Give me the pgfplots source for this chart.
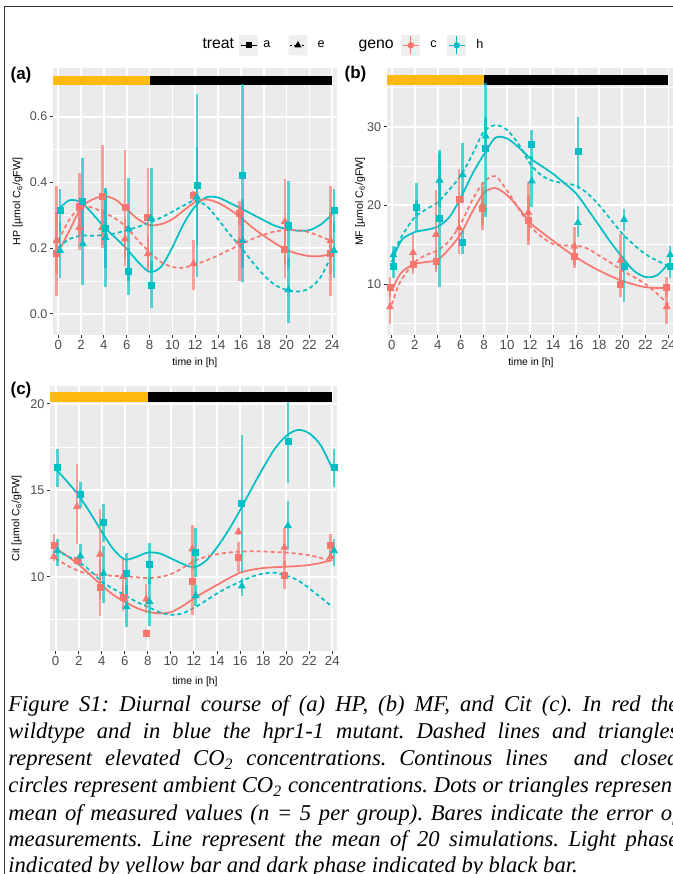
\documentclass[border=0pt]{standalone}
\usepackage{fontspec}
\setmainfont{Liberation Sans}
\newfontfamily\capfont{Liberation Serif}
\usepackage{pgfplots}
\pgfplotsset{compat=1.18}
\definecolor{ggbg}{HTML}{EBEBEB}
\definecolor{ggred}{HTML}{F8766D}
\definecolor{ggcyan}{HTML}{00BFC4}
\definecolor{ggyellow}{HTML}{FFB90F}
\definecolor{ggtext}{HTML}{4D4D4D}
\definecolor{ggtick}{HTML}{333333}
\definecolor{ggkey}{HTML}{EFEFEF}
\pgfplotsset{
 ggpanel/.style={
  scale only axis, anchor=south west,
  axis background/.style={fill=ggbg},
  axis line style={draw=none},
  tick pos=left, tick align=outside,
  major tick length=1.6pt, minor tick length=0pt,
  tick style={ggtick, line width=0.5pt},
  grid=both,
  major grid style={white, line width=0.9pt},
  minor grid style={white, line width=0.45pt},
  xtick={0,2,...,24}, minor xtick={},
  xticklabel style={font=\fontsize{6.6}{7}\selectfont, text=ggtext, inner sep=1pt},
  yticklabel style={font=\fontsize{6.3}{7}\selectfont, text=ggtext, inner sep=1pt},
  /pgf/number format/assume math mode=true,
  xlabel={time in [h]},
  clip=true,
 },
 pr/.style={only marks, error bars/.cd, y dir=both, y explicit, error mark=none,
   error bar style={line width=1.3pt, opacity=0.65}},
 ra/.style={ggred, mark=square*, mark size=1.5pt, pr},
 re/.style={ggred, mark=triangle*, mark size=1.9pt, pr},
 ca/.style={ggcyan, mark=square*, mark size=1.5pt, pr},
 ce/.style={ggcyan, mark=triangle*, mark size=1.9pt, pr},
 lr/.style={ggred, line width=0.85pt, smooth, no marks},
 lc/.style={ggcyan, line width=0.85pt, smooth, no marks},
 dsh/.style={dash pattern=on 2pt off 1.5pt},
 barY/.style={fill=ggyellow, draw=none, forget plot},
 barK/.style={fill=black, draw=none, forget plot},
}
\begin{document}
\begin{tikzpicture}
%%%%%%%%%%%%%%%% panel (a)
\begin{axis}[ggpanel, at={(26.5pt,269.5pt)}, width=141.85pt, height=133.5pt,
  xmin=-0.46, xmax=24.39, ymin=-0.064, ymax=0.748,
  ytick={0,0.2,0.4,0.6}, minor ytick={0.1,0.3,0.5,0.7},
  yticklabel style={/pgf/number format/.cd, fixed, fixed zerofill, precision=1},
  ylabel={HP [µmol C\textsubscript{6}/gFW]},
  every axis x label/.style={at={(axis description cs:0.5,-0.105)}, anchor=center, font=\fontsize{5.2}{6}\selectfont},
  every axis y label/.style={at={(axis description cs:-0.125,0.5)}, rotate=90, anchor=center, font=\fontsize{5.3}{6}\selectfont},
  legend columns=6,
  legend style={at={(axis description cs:0.527,1.085)}, anchor=west, draw=none, fill=none,
    inner sep=0pt, outer sep=0pt, column sep=0pt,
    nodes={inner sep=0pt, font=\fontsize{6.3}{7}\selectfont},
    /tikz/column 1/.style={column sep=0pt},
    /tikz/column 2/.style={column sep=2.5pt},
    /tikz/column 3/.style={column sep=2.5pt},
    /tikz/column 4/.style={column sep=9pt},
    /tikz/column 5/.style={column sep=5pt},
    /tikz/column 6/.style={column sep=17pt},
    /tikz/column 7/.style={column sep=0pt},
    /tikz/column 8/.style={column sep=3.8pt},
    /tikz/column 9/.style={column sep=5pt},
    /tikz/column 10/.style={column sep=5.2pt},
    /tikz/column 11/.style={column sep=5pt}},
]
\addlegendimage{empty legend}
\addlegendentry{\fontsize{7.9}{8}\selectfont treat}
\addlegendimage{black, line width=0.6pt, mark=square*, mark size=1.2pt,
  legend image code/.code={\fill[ggkey] (0pt,-5pt) rectangle (9pt,5pt);
  \draw[mark repeat=2, mark phase=2] plot coordinates {(0.5pt,0pt) (4.5pt,0pt) (8.5pt,0pt)};}}
\addlegendentry{a}
\addlegendimage{black, line width=0.6pt, dash pattern=on 1pt off 1pt, mark=triangle*, mark size=1.5pt, mark options={solid},
  legend image code/.code={\fill[ggkey] (0pt,-5pt) rectangle (9pt,5pt);
  \draw[mark repeat=2, mark phase=2] plot coordinates {(0.5pt,0pt) (4.5pt,0pt) (8.5pt,0pt)};}}
\addlegendentry{e}
\addlegendimage{empty legend}
\addlegendentry{\fontsize{7.9}{8}\selectfont geno}
\addlegendimage{ggred, line width=0.6pt, mark=*, mark size=1.3pt,
  legend image code/.code={\fill[ggkey] (0pt,-5pt) rectangle (9pt,5pt);
  \draw (4.5pt,-4.5pt) -- (4.5pt,4.5pt);
  \draw[mark repeat=2, mark phase=2] plot coordinates {(0.5pt,0pt) (4.5pt,0pt) (8.5pt,0pt)};}}
\addlegendentry{c}
\addlegendimage{ggcyan, line width=0.6pt, mark=*, mark size=1.3pt,
  legend image code/.code={\fill[ggkey] (0pt,-5pt) rectangle (9pt,5pt);
  \draw (4.5pt,-4.5pt) -- (4.5pt,4.5pt);
  \draw[mark repeat=2, mark phase=2] plot coordinates {(0.5pt,0pt) (4.5pt,0pt) (8.5pt,0pt)};}}
\addlegendentry{h}
\addplot[barY] coordinates {(-0.46,0.696) (8,0.696) (8,0.7234) (-0.46,0.7234)} -- cycle;
\addplot[barK] coordinates {(8,0.696) (24,0.696) (24,0.7234) (8,0.7234)} -- cycle;
% simulation means
\addplot[lc] coordinates {(0,0.318) (1,0.346) (2,0.339) (3,0.305) (4,0.265) (5,0.232) (6,0.198) (7,0.158) (8,0.128) (9,0.143) (10,0.203) (11,0.275) (12,0.328) (13,0.355) (14,0.354) (15,0.338) (16,0.321) (17,0.303) (18,0.285) (19,0.268) (20,0.258) (21,0.253) (22,0.255) (23,0.272) (24,0.303)};
\addplot[lr] coordinates {(0,0.188) (1,0.255) (2,0.323) (3,0.348) (4,0.358) (5,0.348) (6,0.318) (7,0.288) (8,0.27) (9,0.273) (10,0.288) (11,0.315) (12,0.340) (13,0.348) (14,0.338) (15,0.318) (16,0.293) (17,0.263) (18,0.238) (19,0.215) (20,0.195) (21,0.183) (22,0.176) (23,0.176) (24,0.183)};
\addplot[lc, dsh] coordinates {(0,0.203) (1,0.228) (2,0.238) (3,0.238) (4,0.24) (5,0.245) (6,0.255) (7,0.265) (8,0.278) (9,0.293) (10,0.311) (11,0.33) (12,0.345) (13,0.328) (14,0.288) (15,0.243) (16,0.203) (17,0.158) (18,0.118) (19,0.088) (20,0.073) (21,0.068) (22,0.078) (23,0.113) (24,0.183)};
\addplot[lr, dsh] coordinates {(0,0.223) (1,0.288) (2,0.326) (3,0.323) (4,0.308) (5,0.29) (6,0.263) (7,0.223) (8,0.188) (9,0.158) (10,0.143) (11,0.141) (12,0.151) (13,0.163) (14,0.178) (15,0.195) (16,0.211) (17,0.228) (18,0.241) (19,0.251) (20,0.255) (21,0.255) (22,0.248) (23,0.235) (24,0.221)};
% measurements
\addplot[ra] coordinates {(-0.15,0.183) += (0,0.127) -= (0,0.128) (1.85,0.328) += (0,0.102) -= (0,0.088) (3.85,0.358) += (0,0.157) -= (0,0.158) (5.85,0.323) += (0,0.177) -= (0,0.178) (7.85,0.293) += (0,0.152) -= (0,0.153) (11.85,0.36) += (0,0.015) -= (0,0.015) (15.85,0.306) += (0,0.036) -= (0,0.036) (19.85,0.196) += (0,0.084) -= (0,0.088) (23.85,0.183) += (0,0.127) -= (0,0.128)};
\addplot[re] coordinates {(-0.15,0.223) += (0,0.167) -= (0,0.103) (1.85,0.263) += (0,0.067) -= (0,0.068) (3.85,0.263) += (0,0.057) -= (0,0.053) (5.85,0.228) += (0,0.062) -= (0,0.058) (7.85,0.183) += (0,0.057) -= (0,0.053) (11.85,0.153) += (0,0.072) -= (0,0.08) (15.85,0.22) += (0,0.11) -= (0,0.12) (19.85,0.281) += (0,0.13) -= (0,0.131) (23.85,0.223) += (0,0.167) -= (0,0.103)};
\addplot[ca] coordinates {(0.15,0.316) += (0,0.064) -= (0,0.066) (2.15,0.343) += (0,0.132) -= (0,0.133) (4.15,0.26) += (0,0.123) -= (0,0.12) (6.15,0.128) += (0,0.072) -= (0,0.07) (8.15,0.088) += (0,0.072) -= (0,0.07) (12.15,0.39) += (0,0.278) -= (0,0.277) (16.15,0.421) += (0,0.279) -= (0,0.281) (20.15,0.268) += (0,0.135) -= (0,0.128) (24.15,0.316) += (0,0.064) -= (0,0.066)};
\addplot[ce] coordinates {(0.15,0.193) += (0,0.087) -= (0,0.085) (2.15,0.213) += (0,0.127) -= (0,0.125) (4.15,0.232) += (0,0.148) -= (0,0.149) (6.15,0.258) += (0,0.155) -= (0,0.158) (8.15,0.29) += (0,0.155) -= (0,0.16) (12.15,0.355) += (0,0.153) -= (0,0.145) (16.15,0.223) += (0,0.127) -= (0,0.125) (20.15,0.073) += (0,0.097) -= (0,0.1) (24.15,0.193) += (0,0.087) -= (0,0.085)};
\end{axis}
%%%%%%%%%%%%%%%% panel (b)
\begin{axis}[ggpanel, at={(193.35pt,269.5pt)}, width=143.05pt, height=133.35pt,
  xmin=-0.434, xmax=24.38, ymin=3.52, ymax=37.43,
  ytick={10,20,30}, minor ytick={5,15,25,35},
  ylabel={MF [µmol C\textsubscript{6}/gFW]},
  every axis x label/.style={at={(axis description cs:0.504,-0.105)}, anchor=center, font=\fontsize{5.2}{6}\selectfont},
  every axis y label/.style={at={(axis description cs:-0.093,0.5)}, rotate=90, anchor=center, font=\fontsize{5.3}{6}\selectfont},
]
\addplot[barY] coordinates {(-0.434,35.30) (8,35.30) (8,36.57) (-0.434,36.57)} -- cycle;
\addplot[barK] coordinates {(8,35.30) (24,35.30) (24,36.57) (8,36.57)} -- cycle;
\addplot[lc] coordinates {(0,12.8) (0.5,14.6) (1,15.8) (2,16.6) (3,16.9) (4,17.3) (5,18.5) (6,21.0) (7,24.0) (8,26.5) (9,28.6) (10,28.5) (11,27.4) (12,26.0) (13,25.0) (14,24.0) (15,22.8) (16,21.5) (17,19.5) (18,17.4) (19,15.3) (20,13.4) (21,11.7) (22,10.9) (23,11.1) (24,12.6)};
\addplot[lc, dsh] coordinates {(0,13.4) (0.5,15.0) (1,16.4) (2,18.5) (3,19.5) (4,20.4) (5,22.0) (6,23.8) (7,26.5) (8,29.4) (9,30.2) (10,29.6) (11,27.8) (12,25.3) (13,23.8) (14,23.1) (15,22.8) (16,22.5) (17,21.5) (18,20.0) (19,18.2) (20,16.4) (21,15.0) (22,13.8) (23,13.0) (24,12.3)};
\addplot[lr] coordinates {(0,9.1) (0.5,10.7) (1,11.7) (2,12.55) (3,12.8) (4,13.1) (5,14.5) (6,16.4) (7,19.2) (8,21.6) (9,22.2) (10,21.3) (11,19.7) (12,17.8) (13,16.6) (14,15.5) (15,14.4) (16,13.4) (17,12.5) (18,11.7) (19,11.0) (20,10.4) (21,9.95) (22,9.6) (23,9.5) (24,9.5)};
\addplot[lr, dsh] coordinates {(0,7.4) (0.5,9.5) (1,10.9) (2,12.8) (3,13.7) (4,14.3) (5,15.5) (6,17.7) (7,20.7) (8,23.0) (9,23.7) (10,21.9) (11,19.6) (12,17.4) (13,16.0) (14,15.1) (15,14.9) (16,14.9) (17,14.5) (18,13.6) (19,12.7) (20,11.7) (21,10.9) (22,10.0) (23,8.8) (24,7.4)};
\addplot[ra] coordinates {(-0.15,9.6) += (0,1.25) -= (0,1.2) (1.85,12.5) += (0,1.2) -= (0,1.2) (3.85,12.9) += (0,1.4) -= (0,1.4) (5.85,20.8) += (0,3.8) -= (0,3.7) (7.85,19.6) += (0,2.7) -= (0,2.7) (11.85,18.1) += (0,3.2) -= (0,3.2) (15.85,13.5) += (0,1.4) -= (0,1.4) (19.85,10.0) += (0,1.7) -= (0,1.7) (23.85,9.6) += (0,1.25) -= (0,1.2)};
\addplot[re] coordinates {(-0.15,7.1) += (0,2.2) -= (0,2.2) (1.85,14.0) += (0,2.4) -= (0,2.2) (3.85,16.3) += (0,5.6) -= (0,4.5) (5.85,17.1) += (0,3.3) -= (0,3.3) (7.85,20.0) += (0,2.8) -= (0,2.5) (11.85,19.1) += (0,3.9) -= (0,3.6) (15.85,14.8) += (0,2.4) -= (0,2.4) (19.85,13.0) += (0,3.4) -= (0,3.4) (23.85,7.1) += (0,2.2) -= (0,2.2)};
\addplot[ca] coordinates {(0.15,12.3) += (0,1.5) -= (0,1.5) (2.15,19.8) += (0,3.0) -= (0,3.0) (4.15,18.4) += (0,8.2) -= (0,8.8) (6.15,15.3) += (0,1.5) -= (0,1.5) (8.15,27.2) += (0,8.3) -= (0,8.7) (12.15,27.8) += (0,1.8) -= (0,1.9) (16.15,26.8) += (0,4.4) -= (0,4.7) (20.15,12.2) += (0,4.2) -= (0,4.5) (24.15,12.3) += (0,1.5) -= (0,1.5)};
\addplot[ce] coordinates {(0.15,13.7) += (0,1.1) -= (0,1.1) (2.15,19.6) += (0,1.1) -= (0,1.1) (4.15,23.2) += (0,3.8) -= (0,3.4) (6.15,23.9) += (0,4.0) -= (0,3.6) (8.15,28.8) += (0,2.4) -= (0,2.3) (12.15,23.1) += (0,3.2) -= (0,3.3) (16.15,17.8) += (0,2.1) -= (0,1.8) (20.15,18.2) += (0,1.4) -= (0,1.4) (24.15,13.7) += (0,1.1) -= (0,1.1)};
\end{axis}
%%%%%%%%%%%%%%%% panel (c)
\begin{axis}[ggpanel, at={(25pt,111.5pt)}, width=143.35pt, height=132.5pt,
  xmin=-0.49, xmax=24.38, ymin=5.70, ymax=21.04,
  ytick={10,15,20}, minor ytick={7.5,12.5,17.5},
  ylabel={Cit [µmol C\textsubscript{6}/gFW]},
  every axis x label/.style={at={(axis description cs:0.506,-0.116)}, anchor=center, font=\fontsize{5.2}{6}\selectfont},
  every axis y label/.style={at={(axis description cs:-0.116,0.5)}, rotate=90, anchor=center, font=\fontsize{5.3}{6}\selectfont},
]
\addplot[barY] coordinates {(-0.49,20.12) (8,20.12) (8,20.69) (-0.49,20.69)} -- cycle;
\addplot[barK] coordinates {(8,20.12) (24,20.12) (24,20.69) (8,20.69)} -- cycle;
\addplot[lc] coordinates {(0,16.25) (1,15.5) (2,14.7) (3,13.7) (4,12.6) (5,11.6) (6,11.0) (7,11.15) (8,11.4) (9,11.35) (10,11.06) (11,10.75) (12,10.55) (13,10.9) (14,11.7) (15,12.7) (16,13.85) (17,15.1) (18,16.3) (19,17.4) (20,18.15) (21,18.5) (22,18.3) (23,17.6) (24,16.25)};
\addplot[lr] coordinates {(0,11.65) (1,11.2) (2,10.7) (3,10.1) (4,9.5) (5,8.95) (6,8.55) (7,8.2) (8,7.97) (9,7.88) (10,7.95) (11,8.3) (12,8.75) (13,9.15) (14,9.52) (15,9.9) (16,10.23) (17,10.4) (18,10.5) (19,10.55) (20,10.58) (21,10.62) (22,10.68) (23,10.8) (24,10.97)};
\addplot[lr, dsh] coordinates {(0,11.06) (1,10.65) (2,10.33) (3,10.15) (4,10.1) (5,10.05) (6,10.03) (7,9.97) (8,9.92) (9,9.98) (10,10.15) (11,10.5) (12,10.9) (13,11.15) (14,11.3) (15,11.4) (16,11.45) (17,11.47) (18,11.46) (19,11.43) (20,11.4) (21,11.33) (22,11.25) (23,11.08) (24,10.87)};
\addplot[lc, dsh] coordinates {(0,11.54) (1,11.2) (2,10.87) (3,10.35) (4,9.71) (5,9.3) (6,8.94) (7,8.55) (8,8.26) (9,7.95) (10,7.8) (11,7.88) (12,8.2) (13,8.6) (14,9.03) (15,9.4) (16,9.71) (17,10.0) (18,10.18) (19,10.23) (20,10.06) (21,9.8) (22,9.32) (23,8.8) (24,8.26)};
\addplot[ra] coordinates {(-0.15,11.8) += (0,0.7) -= (0,0.6) (1.85,10.97) += (0,0.18) -= (0,0.17) (3.85,9.36) += (0,1.64) -= (0,1.66) (5.85,8.78) += (0,0.72) -= (0,0.78) (7.85,6.7) += (0,0.3) -= (0,0.2) (11.85,9.75) += (0,1.25) -= (0,1.95) (15.85,11.1) += (0,0.9) -= (0,0.8) (19.85,10.1) += (0,0.8) -= (0,0.8) (23.85,11.8) += (0,0.7) -= (0,0.6)};
\addplot[re] coordinates {(-0.15,11.16) += (0,0.34) -= (0,0.26) (1.85,14.05) += (0,2.45) -= (0,2.15) (3.85,11.3) += (0,2.6) -= (0,2.6) (5.85,10.0) += (0,1.0) -= (0,1.25) (7.85,8.7) += (0,0.9) -= (0,0.8) (11.85,11.6) += (0,1.4) -= (0,1.2) (15.85,12.6) += (0,0.2) -= (0,0.2) (19.85,11.7) += (0,1.1) -= (0,1.1) (23.85,11.16) += (0,0.34) -= (0,0.26)};
\addplot[ca] coordinates {(0.15,16.3) += (0,1.1) -= (0,1.1) (2.15,14.77) += (0,0.73) -= (0,0.77) (4.15,13.15) += (0,1.05) -= (0,1.15) (6.15,10.2) += (0,1.15) -= (0,1.2) (8.15,10.7) += (0,1.23) -= (0,1.1) (12.15,11.4) += (0,1.4) -= (0,1.4) (16.15,14.25) += (0,3.95) -= (0,3.95) (20.15,17.86) += (0,2.24) -= (0,2.46) (24.15,16.3) += (0,1.1) -= (0,1.1)};
\addplot[ce] coordinates {(0.15,11.5) += (0,0.7) -= (0,0.9) (2.15,11.2) += (0,0.7) -= (0,0.6) (4.15,10.2) += (0,1.6) -= (0,1.75) (6.15,8.26) += (0,1.24) -= (0,1.16) (8.15,8.55) += (0,1.35) -= (0,1.39) (12.15,8.9) += (0,0.6) -= (0,0.6) (16.15,9.46) += (0,0.44) -= (0,0.56) (20.15,12.95) += (0,1.45) -= (0,1.35) (24.15,11.5) += (0,0.7) -= (0,0.9)};
\end{axis}
%%%%%%%%%%%%%%%% tags, caption, frame
\node[font=\bfseries\fontsize{8.5}{9}\selectfont, inner sep=0pt] at (10.5pt,399.5pt) {(a)};
\node[font=\bfseries\fontsize{8.5}{9}\selectfont, inner sep=0pt] at (177.75pt,399.75pt) {(b)};
\node[font=\bfseries\fontsize{8.5}{9}\selectfont, inner sep=0pt] at (10.5pt,242pt) {(c)};
\begin{scope}[every node/.style={anchor=base west, inner sep=0pt, font=\capfont\itshape\fontsize{11.3}{13.5}\selectfont\frenchspacing}]
\node at (4pt,81pt) {\makebox[335pt][s]{Figure S1: Diurnal course of (a) HP, (b) MF, and Cit (c). In red the}};
\node at (4pt,67.5pt) {\makebox[335pt][s]{wildtype and in blue the hpr1-1 mutant. Dashed lines and triangles}};
\node at (4pt,54pt) {\makebox[335pt][s]{represent elevated CO\textsubscript{2} concentrations. Continous lines\ \ and closed}};
\node at (4pt,40.5pt) {\makebox[335pt][s]{circles represent ambient CO\textsubscript{2} concentrations. Dots or triangles represent}};
\node at (4pt,27pt) {\makebox[335pt][s]{mean of measured values (n = 5 per group). Bares indicate the error of}};
\node at (4pt,13.5pt) {\makebox[335pt][s]{measurements. Line represent the mean of 20 simulations. Light phase}};
\node at (4pt,0.8pt) {indicated by yellow bar and dark phase indicated by black bar.};
\end{scope}
\draw[line width=0.5pt, black!80] (2pt,-10pt) -- (2pt,433.5pt) -- (360pt,433.5pt);
\pgfresetboundingbox
\path[use as bounding box] (0pt,0pt) rectangle (336.5pt,437pt);
\end{tikzpicture}
\end{document}
